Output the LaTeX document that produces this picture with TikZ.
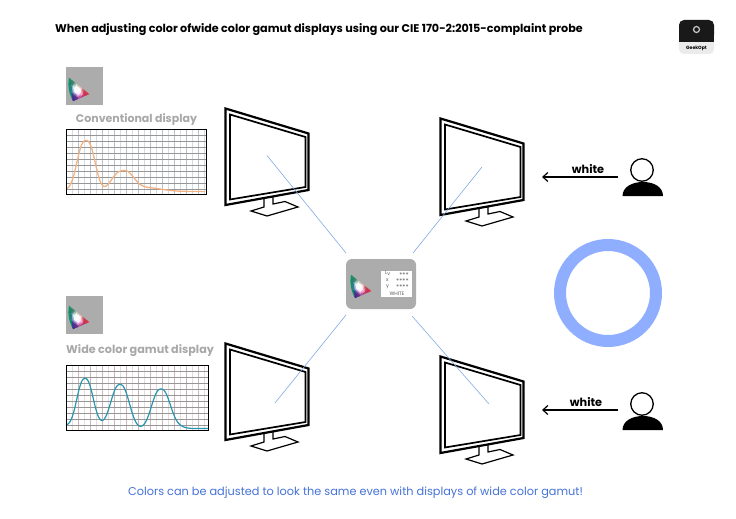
\documentclass[tikz,border=0pt]{standalone}
\usepackage{fontspec}
\setmainfont{Poppins}
\usetikzlibrary{arrows.meta}
\definecolor{thumbgray}{RGB}{172,172,172}
\definecolor{labgray}{RGB}{168,168,168}
\definecolor{raybl}{RGB}{130,170,225}
\definecolor{ringbl}{RGB}{143,174,255}
\definecolor{captbl}{RGB}{70,115,215}
\definecolor{orangec}{RGB}{242,178,130}
\definecolor{tealc}{RGB}{40,150,175}
\definecolor{gridh}{RGB}{150,150,150}
\definecolor{gridva}{RGB}{185,193,202}
\definecolor{gridvb}{RGB}{215,220,226}
\definecolor{gridpa}{RGB}{205,180,184}
\definecolor{gridpb}{RGB}{230,220,222}
\definecolor{gamutgreen}{RGB}{10,150,105}
\tikzset{
 x=1pt,y=-1pt,
 screenline/.style={draw=black,line width=2pt,line join=miter,fill=none},
 rayline/.style={draw=raybl,line width=0.6pt},
 thumbbox/.style={fill=thumbgray},
 chartframe/.style={draw=black,line width=0.9pt},
 charth/.style={draw=gridh,line width=0.35pt},
 headtext/.style={font=\fontsize{11.17}{13}\selectfont\bfseries,text=black,anchor=west,inner sep=0pt},
 graytext/.style={text=labgray,inner sep=0pt},
 whitetext/.style={font=\fontsize{11.3}{12}\selectfont\bfseries,text=black,inner sep=0pt},
 capttext/.style={font=\fontsize{11.3}{13}\selectfont,text=captbl,inner sep=0pt},
 readout/.style={font=\fontsize{5}{6}\selectfont,text=black!65,inner sep=0pt},
 stars/.style={font=\fontsize{6.5}{6.5}\selectfont,text=black!60,inner sep=0pt},
 pointer/.style={draw=black,line width=1.2pt,-{Straight Barb[length=5pt,width=9pt]}},
 bodyshape/.style={fill=black},
 headshape/.style={draw=black,line width=1.3pt,circle,minimum size=22.5pt,inner sep=0pt},
}
\newcommand{\monitor}[2]{%
 \begin{scope}[shift={(#1,#2)}]
  \draw[screenline,line width=2.2pt] (225.5,108.5)--(308.5,133.5)--(308.5,190)--(225.5,205)--cycle;
  \draw[screenline,line width=1.7pt] (230,114.5)--(305.5,137)--(305.5,187)--(230,199.5)--cycle;
  \draw[black,line width=1.2pt,line join=miter] (264,198)--(264,207)--(251,211)--(267,216)--(298,207)--(285,201.5)--(273,204)--(273,196);
 \end{scope}}
% barycentric colour triangle: green at the top, red at the right, blue at the bottom
\newcommand{\gamut}[1]{%
 \begin{scope}[shift={(#1)}]
  \fill[gamutgreen] (0,0) .. controls (-1.5,8) and (0,16) .. (4,23) -- (1.5,1) -- cycle;
  \foreach \i in {0,...,11}{\foreach \j in {0,...,11}{%
   \pgfmathtruncatemacro{\k}{11-\i-\j}%
   \ifnum\k>-1
    \pgfmathsetmacro{\bb}{(\i+0.33)/12}\pgfmathsetmacro{\cc}{(\j+0.33)/12}\pgfmathsetmacro{\aa}{1-\bb-\cc}%
    \pgfmathsetmacro{\w}{max(0,1-2.0*abs(\aa-0.36)-2.0*abs(\bb-0.36)-1.6*abs(\cc-0.28)+0.35)}%
    \pgfmathsetmacro{\rv}{min(1,0.05*\aa+0.95*\bb+0.25*\cc+0.9*\w)}%
    \pgfmathsetmacro{\gv}{min(1,0.62*\aa+0.18*\bb+0.12*\cc+0.9*\w)}%
    \pgfmathsetmacro{\bv}{min(1,0.40*\aa+0.25*\bb+0.62*\cc+0.9*\w)}%
    \definecolor{gmc}{rgb}{\rv,\gv,\bv}%
    \pgfmathsetmacro{\xa}{(\i*20+\j*4)/12}\pgfmathsetmacro{\ya}{(\i*16+\j*23)/12}%
    \pgfmathsetmacro{\xb}{\xa+20/12}\pgfmathsetmacro{\yb}{\ya+16/12}%
    \pgfmathsetmacro{\xc}{\xa+4/12}\pgfmathsetmacro{\yc}{\ya+23/12}%
    \pgfmathsetmacro{\xd}{\xb+4/12}\pgfmathsetmacro{\yd}{\yb+23/12}%
    \fill[gmc,draw=gmc,line width=0.15pt] (\xa,\ya)--(\xb,\yb)--(\xc,\yc)--cycle;
    \ifnum\k>0
     \fill[gmc,draw=gmc,line width=0.15pt] (\xb,\yb)--(\xd,\yd)--(\xc,\yc)--cycle;
    \fi
   \fi}}
 \end{scope}}
\newcommand{\person}[2]{%
 \begin{scope}[shift={(#1,#2)}]
  \fill[bodyshape] (-19.5,26) .. controls (-19.5,17) and (-10,12) .. (1,12) .. controls (12,12) and (21,17) .. (21,26) -- cycle;
 \end{scope}}
\begin{document}
\begin{tikzpicture}
\useasboundingbox (0,0) rectangle (736,519);
\fill[white] (0,0) rectangle (736,519);
\node[headtext] (title) at (55,29.5) {When adjusting color ofwide color gamut displays using our CIE 170-2:2015-complaint probe};

% logo
\fill[black!8,rounded corners=5pt] (679,30) rectangle (714,54);
\fill[black!90,rounded corners=5pt] (679,20) rectangle (714,40);
\fill[black!90] (679,34) rectangle (714,42);
\draw[white!80!black,line width=1.2pt] (696.5,29.5) circle (3);
\node[font=\fontsize{4.6}{5}\selectfont\bfseries,inner sep=0pt] (logotext) at (696.5,48) {GeekOpt};

% thumbs
\fill[thumbbox] (66,67) rectangle (103,105);
\gamut{69,78}
\node[graytext,font=\fontsize{11}{13}\selectfont\bfseries] (conv) at (136.5,119.5) {Conventional display};
\fill[thumbbox] (66,296) rectangle (103,334);
\gamut{69,306}
\node[graytext,font=\fontsize{11.2}{13}\selectfont\bfseries,anchor=west] (wide) at (66,351) {Wide color gamut display};

% chart 1
\foreach \x [count=\n] in {72,78,...,204}{\pgfmathtruncatemacro{\m}{mod(\n,2)}\ifnum\m=0 \draw[gridva,line width=0.5pt] (\x,129)--(\x,194);\else\draw[gridvb,line width=0.6pt] (\x,129)--(\x,194);\fi}
\foreach \y in {135,141,...,190}{\draw[charth] (66,\y)--(206,\y);}
\draw[orangec,line width=1.3pt,line join=round] plot[domain=67:205,samples=140,smooth] (\x,{191.5-51*exp(-(abs(\x-86)/11.5)^2.5)-19.5*exp(-(abs(\x-122.5)/14)^2.5)-4*exp(-((\x-145)/22)^2)-1.5*exp(-(abs(\x-67)/5)^2)});
\draw[chartframe] (66,129) rectangle (206,194);

% chart 2
\foreach \x [count=\n] in {72,78,...,204}{\pgfmathtruncatemacro{\m}{mod(\n,2)}\ifnum\m=0 \draw[gridpa,line width=0.5pt] (\x,365)--(\x,430);\else\draw[gridpb,line width=0.6pt] (\x,365)--(\x,430);\fi}
\foreach \y in {371,377,...,426}{\draw[charth] (66,\y)--(208,\y);}
\draw[tealc,line width=1.2pt,line join=round] plot[domain=66:208,samples=140,smooth] (\x,{428.5-50*exp(-(abs(\x-85)/10.5)^2.4)-44*exp(-(abs(\x-120)/12)^2.4)-39.5*exp(-(abs(\x-161)/12)^2.4)-3*exp(-((\x-100)/8)^2)-2.5*exp(-((\x-66)/9)^2)-2*exp(-((\x-178)/8)^2)});
\draw[chartframe] (66,365) rectangle (208,430);

% monitors
\monitor{0}{0}
\monitor{215}{10}
\monitor{0}{235}
\monitor{215}{248}

% centre box
\node[fill=thumbgray,rounded corners=6pt,minimum width=70pt,minimum height=50pt,inner sep=0pt] (probe) at (381,284) {};
\gamut{351,275}
\fill[white] (381,271) rectangle (412,297);
\node[readout,anchor=west] (rl) at (385,273.5) {L\textsubscript{v}};
\node[stars,anchor=east] (rlv) at (409,275) {***};
\node[readout,anchor=west] (rx) at (386,280.5) {x};
\node[stars,anchor=east] (rxv) at (409,281.5) {****};
\node[readout,anchor=west] (ry) at (386,286.5) {y};
\node[stars,anchor=east] (ryv) at (409,287.5) {****};
\node[readout] (rw) at (397,294) {WHITE};

% rays
\coordinate (a1) at (267,155.5);
\coordinate (b1) at (346,253);
\coordinate (a2) at (482,167);
\coordinate (b2) at (413,253);
\coordinate (a3) at (275,403);
\coordinate (b3) at (346,315);
\coordinate (a4) at (489,404);
\coordinate (b4) at (412,316);
\draw[rayline] (a1)--(b1);
\draw[rayline] (a2)--(b2);
\draw[rayline] (a3)--(b3);
\draw[rayline] (a4)--(b4);

% ring
\node[draw=ringbl,line width=12pt,circle,minimum size=96pt,inner sep=0pt] (ring) at (608,293) {};

% top person
\node[headshape] (head1) at (642,170) {};
\person{642}{170}
\coordinate (from1) at (618,177);
\coordinate (to1) at (542,177);
\draw[pointer] (from1)--(to1);
\node[whitetext] (w1) at (588,169.5) {white};

% bottom person
\node[headshape] (head2) at (642,404) {};
\person{642}{404}
\coordinate (from2) at (618,410);
\coordinate (to2) at (542,410);
\draw[pointer] (from2)--(to2);
\node[whitetext] (w2) at (586,402.5) {white};

\node[capttext] (capt) at (355.5,492.5) {Colors can be adjusted to look the same even with displays of wide color gamut!};
\end{tikzpicture}
\end{document}
